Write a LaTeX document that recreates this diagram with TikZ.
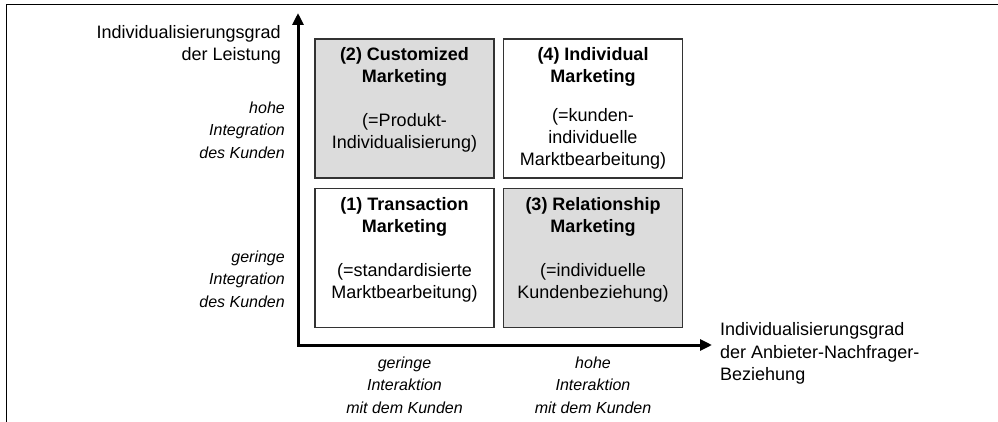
\documentclass[tikz,border=0pt]{standalone}
\usepackage{fontspec}
\setmainfont{Liberation Sans}
\usetikzlibrary{arrows.meta,positioning}
\definecolor{quadgray}{HTML}{DCDCDC}
\definecolor{quadline}{HTML}{333333}

\begin{document}
\begin{tikzpicture}[x=1pt, y=-1pt, line join=miter,
    quad/.style={draw=quadline, line width=1.3pt, minimum width=179pt, minimum height=139pt, inner sep=0pt},
    quadtext/.style={anchor=north, align=center, inner sep=0pt, font=\fontsize{18}{22}\selectfont},
    axislabel/.style={inner sep=0pt, font=\fontsize{18}{22.5}\selectfont},
    degree/.style={inner sep=0pt, font=\fontsize{16}{22.5}\selectfont\itshape},
    axis/.style={line width=3pt, {Triangle[length=12pt,width=11pt]}-{Triangle[length=12pt,width=11pt]}}]
\useasboundingbox (0,0) rectangle (998,422);
\draw[line width=1pt] (6,422) -- (6,5) -- (998,5);

\coordinate [] (origin) at (298,345);
\coordinate [] (ytip) at (298,13);
\coordinate [] (xtip) at (712,345);

\node[quad, fill=quadgray] (q2) at (404.5,108.5) {};
\node[quad] (q4) at (593,108.5) {};
\node[quad] (q1) at (404.5,258) {};
\node[quad, fill=quadgray] (q3) at (593,258) {};

\node[quadtext, below=9pt of q2.north] (q2t) {\textbf{(2) Customized}\\\textbf{Marketing}\\[22pt](=Produkt-\\Individualisierung)};
\node[quadtext, below=9pt of q4.north] (q4t) {\textbf{(4) Individual}\\\textbf{Marketing}\\[17pt](=kunden-\\individuelle\\Marktbearbeitung)};
\node[quadtext, below=9pt of q1.north] (q1t) {\textbf{(1) Transaction}\\\textbf{Marketing}\\[22pt](=standardisierte\\Marktbearbeitung)};
\node[quadtext, below=9pt of q3.north] (q3t) {\textbf{(3) Relationship}\\\textbf{Marketing}\\[22pt](=individuelle\\Kundenbeziehung)};

\draw[axis] (ytip) -- (origin) -- (xtip);

\node[axislabel, align=right, anchor=north east] (ylabel) at (281,25) {Individualisierungsgrad\\der Leistung};
\node[axislabel, align=left, anchor=north west] (xlabel) at (720,322.5) {Individualisierungsgrad\\der Anbieter-Nachfrager-\\Beziehung};

\node[degree, align=right, anchor=north east] (yhigh) at (285,101.5) {hohe\\Integration\\des Kunden};
\node[degree, align=right, anchor=north east] (ylow) at (285,250.5) {geringe\\Integration\\des Kunden};
\node[degree, align=center, anchor=north] (xlow) at (404.5,356.5) {geringe\\Interaktion\\mit dem Kunden};
\node[degree, align=center, anchor=north] (xhigh) at (593,356.5) {hohe\\Interaktion\\mit dem Kunden};
\end{tikzpicture}
\end{document}
